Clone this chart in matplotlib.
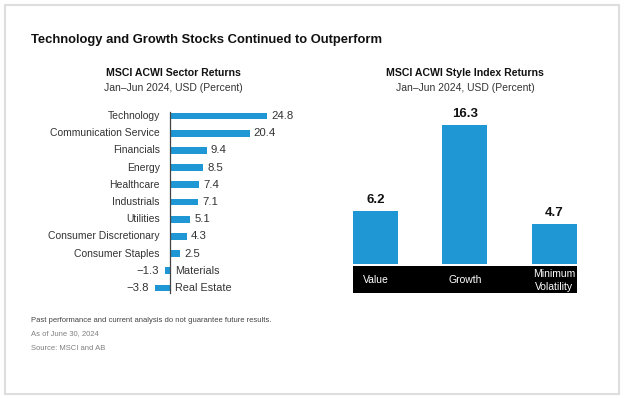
import matplotlib
matplotlib.use("Agg")
import matplotlib.pyplot as plt
from matplotlib.patches import Rectangle

plt.rcParams['font.family'] = ['Liberation Sans', 'DejaVu Sans']

# sector returns, Jan-Jun 2024
sectors = ['Technology', 'Communication Service', 'Financials', 'Energy',
           'Healthcare', 'Industrials', 'Utilities', 'Consumer Discretionary',
           'Consumer Staples', 'Materials', 'Real Estate']
sector_returns = [24.8, 20.4, 9.4, 8.5, 7.4, 7.1, 5.1, 4.3, 2.5, -1.3, -3.8]

# style index returns
styles = ['Value', 'Growth', 'Minimum\nVolatility']
style_returns = [6.2, 16.3, 4.7]

BLUE = '#1f97d4'
TEXT = '#333333'
W, H = 624, 398


def px_box(x0, y0, x1, y1):
    """pixel box (top-left origin) -> figure fraction rect"""
    return [x0 / W, 1 - y1 / H, (x1 - x0) / W, (y1 - y0) / H]


fig = plt.figure(figsize=(W / 100, H / 100), dpi=100)
fig.patch.set_facecolor('white')

# card outline
fig.patches.append(Rectangle((5 / W, 1 - 394 / H), 614 / W, 389 / H,
                             transform=fig.transFigure, fill=False,
                             edgecolor='#dedede', linewidth=1.5))

fig.text(31 / W, 1 - 40 / H, 'Technology and Growth Stocks Continued to Outperform',
         fontsize=9.4, fontweight='bold', color='#111111', va='center')

# left: sector bars
fig.text(173 / W, 1 - 73 / H, 'MSCI ACWI Sector Returns', fontsize=7.6,
         fontweight='bold', color='#111111', ha='center', va='center')
fig.text(173 / W, 1 - 88 / H, 'Jan\u2013Jun 2024, USD (Percent)', fontsize=7.5,
         color=TEXT, ha='center', va='center')

ax1 = fig.add_axes(px_box(100, 107, 300, 297))
rows = list(range(len(sectors)))
ax1.barh(rows, sector_returns, height=0.4, color=BLUE)
ax1.set_xlim(-70 / 3.9, 130 / 3.9)
ax1.set_ylim(10 + 9 / 17.15, -9 / 17.15)
for s in ['top', 'right', 'bottom']:
    ax1.spines[s].set_visible(False)
ax1.spines['left'].set_position(('data', 0))
ax1.spines['left'].set_bounds(-0.25, 10.3)
ax1.spines['left'].set_color('#444444')
ax1.spines['left'].set_linewidth(0.9)
ax1.set_xticks([])
ax1.set_yticks([])
ax1.patch.set_alpha(0)
for r, name, val in zip(rows, sectors, sector_returns):
    if val >= 0:
        ax1.text(-2.6, r, name, ha='right', va='center', fontsize=7.5, color=TEXT)
        ax1.text(val + 1.1, r, f'{val:.1f}', ha='left', va='center', fontsize=8.2, color=TEXT)
    else:
        ax1.text(val - 1.6, r, f'\u2212{abs(val):.1f}', ha='right', va='center',
                 fontsize=8.2, color=TEXT)
        ax1.text(1.3, r, name, ha='left', va='center', fontsize=7.8, color=TEXT)

# right: style index bars
fig.text(465 / W, 1 - 73 / H, 'MSCI ACWI Style Index Returns', fontsize=7.6,
         fontweight='bold', color='#111111', ha='center', va='center')
fig.text(465 / W, 1 - 88 / H, 'Jan\u2013Jun 2024, USD (Percent)', fontsize=7.5,
         color=TEXT, ha='center', va='center')

ax2 = fig.add_axes(px_box(340, 100, 590, 300))
cols = list(range(len(styles)))
bw = 45 / 89.5
ax2.bar(cols, style_returns, width=bw, color=BLUE)
ax2.set_xlim(-35.5 / 89.5, 214.5 / 89.5)
ax2.set_ylim(-36 / 8.53, 164 / 8.53)
ax2.axis('off')
band_top, band_bot = -2 / 8.53, -29 / 8.53
ax2.add_patch(Rectangle((cols[0] - bw / 2, band_bot), cols[-1] - cols[0] + bw,
                        band_top - band_bot, facecolor='black', edgecolor='none'))
for c, name, val in zip(cols, styles, style_returns):
    ax2.text(c, val + 11 / 8.53, f'{val:.1f}', ha='center', va='center', fontsize=9.5,
             fontweight='bold', color='#111111')
    ax2.text(c, (band_top + band_bot) / 2 - 0.1, name, ha='center', va='center',
             fontsize=7.5, color='white', linespacing=1.45)

# footnotes
fig.text(31 / W, 1 - 320 / H,
         'Past performance and current analysis do not guarantee future results.',
         fontsize=5.5, color='#444444', va='center')
fig.text(31 / W, 1 - 334 / H, 'As of June 30, 2024', fontsize=5.5, color='#808080', va='center')
fig.text(31 / W, 1 - 349 / H, 'Source: MSCI and AB', fontsize=5.5, color='#808080', va='center')

fig.savefig('out.png', dpi=100, facecolor='white')
